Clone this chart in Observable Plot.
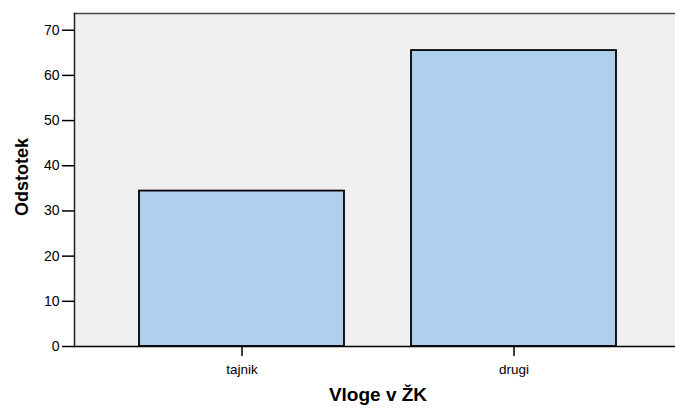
<!DOCTYPE html>
<html>
<head>
<meta charset="utf-8">
<script src="https://cdn.jsdelivr.net/npm/d3@7"></script>
<script src="https://cdn.jsdelivr.net/npm/@observablehq/plot@0.6"></script>
<style>
  html, body { margin: 0; padding: 0; background: #fff; }
  #chart svg { display: block; }
</style>
</head>
<body>
<div id="chart"></div>
<script>
const categories = ["tajnik", "drugi"];
const values = [34.4, 65.5];
const yTicks = [0, 10, 20, 30, 40, 50, 60, 70];
const xTitle = "Vloge v ŽK";
const yTitle = "Odstotek";

const data = categories.map((c, i) => ({category: c, value: values[i]}));

const chart = Plot.plot({
  width: 675,
  height: 408,
  marginLeft: 74,
  marginRight: 0,
  marginTop: 13,
  marginBottom: 62,
  style: {fontFamily: "'Liberation Sans', Arial, sans-serif", background: "#fff", color: "#000"},
  x: {domain: categories, range: [139, 617], paddingInner: 0.246, paddingOuter: 0, axis: null},
  y: {domain: [0, 73.7], axis: null},
  marks: [
    Plot.frame({fill: "#f0f0f0", stroke: null}),
    Plot.frame({anchor: "top", stroke: "#444", strokeWidth: 1.5}),
    Plot.frame({anchor: "left", stroke: "#222", strokeWidth: 1.5}),
    Plot.barY(data, {x: "category", y: "value", fill: "#aecfee", stroke: "#000", strokeWidth: 1.8}),
    Plot.ruleY([0], {stroke: "#000", strokeWidth: 1.5}),
    Plot.axisY(yTicks, {tickSize: 12, tickPadding: 3, fontSize: 14, label: null, stroke: "#000", strokeWidth: 1.5, style: {letterSpacing: "0.4px"}}),
    Plot.axisX(categories, {tickSize: 10, tickPadding: 8, fontSize: 13.5, label: null, stroke: "#000", strokeWidth: 1.5, style: {letterSpacing: "0.5px"}}),
    Plot.text([xTitle], {frameAnchor: "bottom", dy: 54, dx: 3, fontSize: 19, fontWeight: "bold", fill: "#000", style: {letterSpacing: "2.3px"}}),
    Plot.text([yTitle], {frameAnchor: "left", textAnchor: "middle", rotate: -90, dx: -52, dy: -3, fontSize: 18, fontWeight: "bold", fill: "#000"})
  ]
});
document.getElementById("chart").appendChild(chart);
</script>
</body>
</html>
